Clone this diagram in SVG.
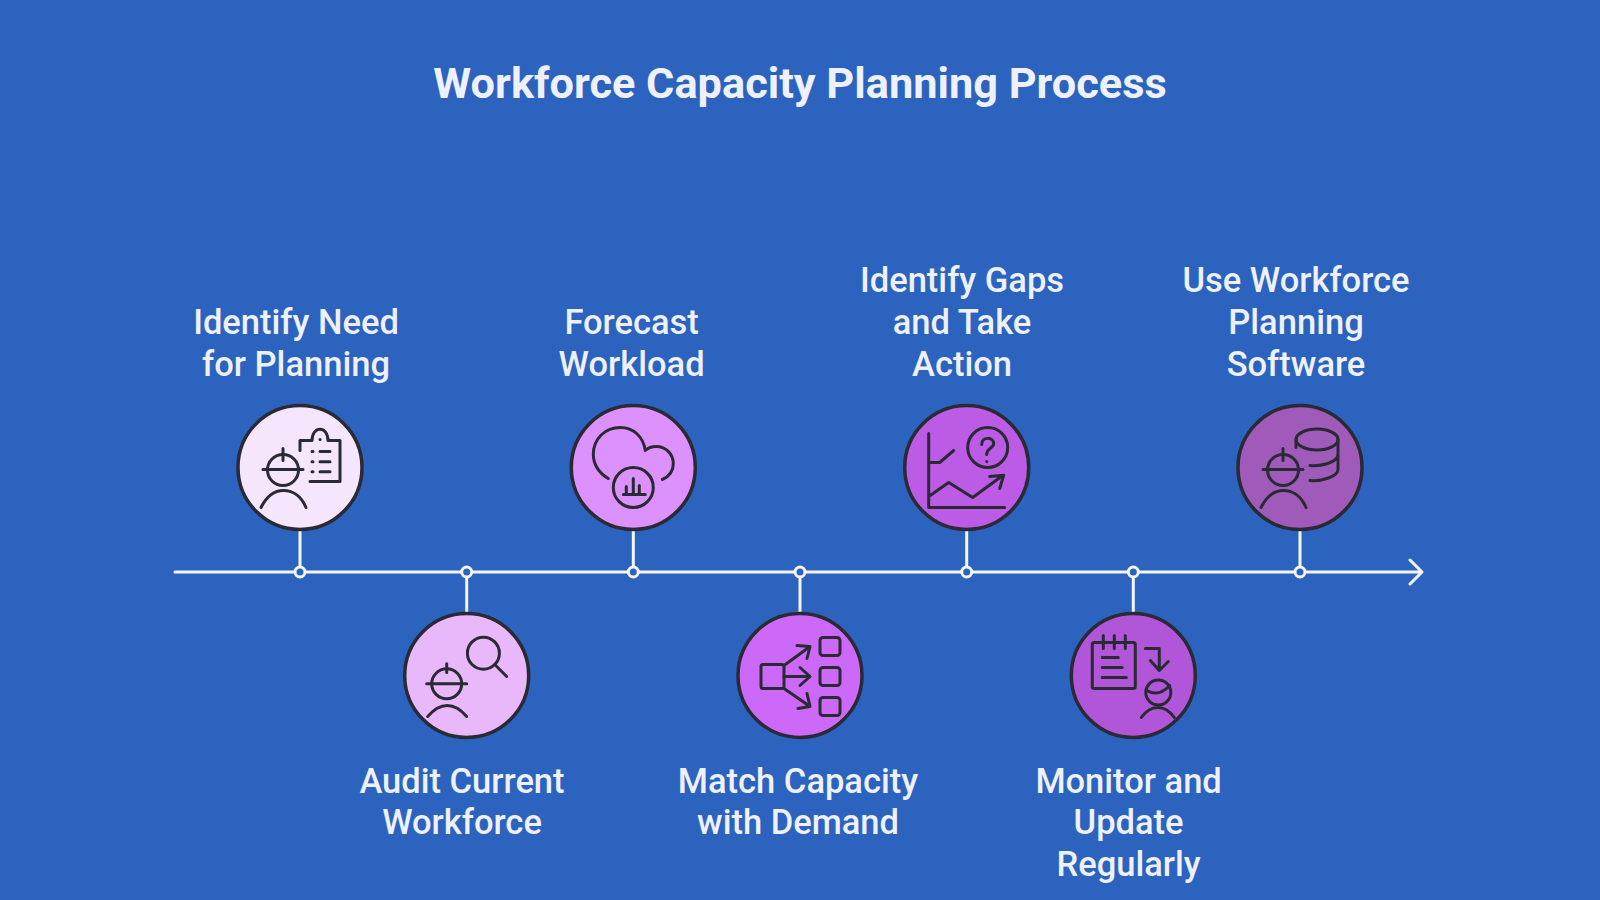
<svg xmlns="http://www.w3.org/2000/svg" width="1600" height="900" viewBox="0 0 1600 900">
<style>
.bg{fill:#2b63bf}
.t{font-family:Roboto,"Liberation Sans",sans-serif;fill:#eef1fb;text-anchor:middle}
.title{font-size:43.300px;font-weight:700}
.lab{font-size:34.500px;font-weight:500}
.disc{stroke:#2a2a35;stroke-width:3.5}
.ic{fill:none;stroke:#2a2a35;stroke-width:3;stroke-linecap:round;stroke-linejoin:round}
.c{fill:none;stroke:#f4f6fd;stroke-width:3;stroke-linecap:round;stroke-linejoin:round}
.dot{fill:#2b63bf;stroke:#f4f6fd;stroke-width:3}
</style>
<defs>
<g id="worker" class="ic">
<circle cx="-17" cy="2.5" r="15.5"/>
<path d="M-37 2H3M-17 -19V-7M-39 40C-33 28 -25 23 -16.500 23C-8 23 1 28 6 40"/>
</g>
</defs>
<rect class="bg" width="1600" height="900"/>
<text class="t title" x="800" y="98">Workforce Capacity Planning Process</text>
<g id="connectors">
<path class="c" d="M175 572H1421M1410 560L1422 572L1410 584"/>
<path class="c" d="M300 530V572M466.700 613V572M633.300 530V572M800 613V572M966.700 530V572M1133.300 613V572M1300 530V572"/>
<circle class="dot" cx="300" cy="572" r="5"/>
<circle class="dot" cx="466.700" cy="572" r="5"/>
<circle class="dot" cx="633.300" cy="572" r="5"/>
<circle class="dot" cx="800" cy="572" r="5"/>
<circle class="dot" cx="966.700" cy="572" r="5"/>
<circle class="dot" cx="1133.300" cy="572" r="5"/>
<circle class="dot" cx="1300" cy="572" r="5"/>
</g>
<g id="node1">
<g transform="translate(300 467.500)">
<circle class="disc" r="62" fill="#f5e6fd"/>
<use href="#worker"/>
<path class="ic" d="M0 -17V-27H12C12 -42 28 -42 28 -27H40V14H10M12 -16H13M12 -5.700H13M12 4.300H13M20 -16H30M20 -5.700H30M20 4.300H30M20 -28H20.100"/>
</g>
<text class="t lab" x="296" y="334">Identify Need</text>
<text class="t lab" x="296" y="375.800">for Planning</text>
</g>
<g id="node2">
<g transform="translate(466.700 675.500)">
<circle class="disc" r="62" fill="#e9b8fb"/>
<circle class="ic" cx="-20" cy="8.300" r="15"/>
<path class="ic" d="M-40 8.300H0M-20 -11.700V-3M-39 41C-33 34 -27 30 -19.500 30C-12 30 -6 34 0 41"/>
<circle class="ic" cx="16.700" cy="-22.300" r="16"/>
<path class="ic" d="M28 -11L40 1"/>
</g>
<text class="t lab" x="462" y="792.500">Audit Current</text>
<text class="t lab" x="462" y="834.300">Workforce</text>
</g>
<g id="node3">
<g transform="translate(633.300 467.500)">
<circle class="disc" r="62" fill="#dd91fc"/>
<path class="ic" d="M-25 11C-34 6 -40 -3 -40 -13C-40 -29 -28 -40 -13 -40C0 -40 10 -31 12 -17C15 -20 19 -21 23 -21C33 -21 40 -13 40 -4C40 3 36 9 29 12"/>
<circle class="ic" cx="0" cy="20" r="20"/>
<path class="ic" d="M-10 27H12M-7 27V19M0 27V11M6 27V18"/>
</g>
<text class="t lab" x="631.600" y="334">Forecast</text>
<text class="t lab" x="631.600" y="375.800">Workload</text>
</g>
<g id="node4">
<g transform="translate(800 675.500)">
<circle class="disc" r="62" fill="#cd69f8"/>
<rect class="ic" x="-39" y="-11" width="23" height="24" rx="2"/>
<rect class="ic" x="20" y="-38" width="20" height="18" rx="3"/>
<rect class="ic" x="20" y="-8" width="20" height="18" rx="3"/>
<rect class="ic" x="20" y="22" width="20" height="18" rx="3"/>
<path class="ic" d="M-16 -10L10 -29M-3 -30L10 -29L7 -17M-16 1H10M0 -8L10 1L0 10M-16 13L10 31M-2 33L10 31L7 18"/>
</g>
<text class="t lab" x="798" y="792.500">Match Capacity</text>
<text class="t lab" x="798" y="834.300">with Demand</text>
</g>
<g id="node5">
<g transform="translate(966.700 467.500)">
<circle class="disc" r="62" fill="#bc5be6"/>
<path class="ic" d="M-38 -34V40H38M-38 -5H-27L-13 -17M-38 29L-18 15L6 30L36 8M23 9L37 7.700L33 21"/>
<circle class="ic" cx="21" cy="-20" r="20"/>
<path class="ic" d="M15 -23C15 -31 27 -31 27 -24C27 -19 20 -20 20 -13M20 -6H20.100"/>
</g>
<text class="t lab" x="962" y="292.200">Identify Gaps</text>
<text class="t lab" x="962" y="334">and Take</text>
<text class="t lab" x="962" y="375.800">Action</text>
</g>
<g id="node6">
<g transform="translate(1133.300 675.500)">
<circle class="disc" r="62" fill="#b155d9"/>
<rect class="ic" x="-41" y="-33" width="43" height="46" rx="2"/>
<path class="ic" d="M-30 -40V-27M-19 -40V-27M-8 -40V-27M-31 -18H-15M-31 -8H-11M-31 2H-7M12 -27H26V-5M17 -15L26 -5L35 -14"/>
<circle class="ic" cx="25" cy="17" r="12.500"/>
<path class="ic" d="M13.500 15Q25 22 36.500 10M8 42C13 35 19 32 24.500 32C30 32 36 35 41 42"/>
</g>
<text class="t lab" x="1128.600" y="792.500">Monitor and</text>
<text class="t lab" x="1128.600" y="834.300">Update</text>
<text class="t lab" x="1128.600" y="876.100">Regularly</text>
</g>
<g id="node7">
<g transform="translate(1300 467.500)">
<circle class="disc" r="62" fill="#a05bba"/>
<use href="#worker"/>
<ellipse class="ic" cx="17" cy="-28" rx="21" ry="10.500"/>
<path class="ic" d="M-4 -28V-20M38 -28V2C38 9 22 14 10 13M38 -12C36 -5 22 -1 10 -2"/>
</g>
<text class="t lab" x="1296" y="292.200">Use Workforce</text>
<text class="t lab" x="1296" y="334">Planning</text>
<text class="t lab" x="1296" y="375.800">Software</text>
</g>
</svg>
